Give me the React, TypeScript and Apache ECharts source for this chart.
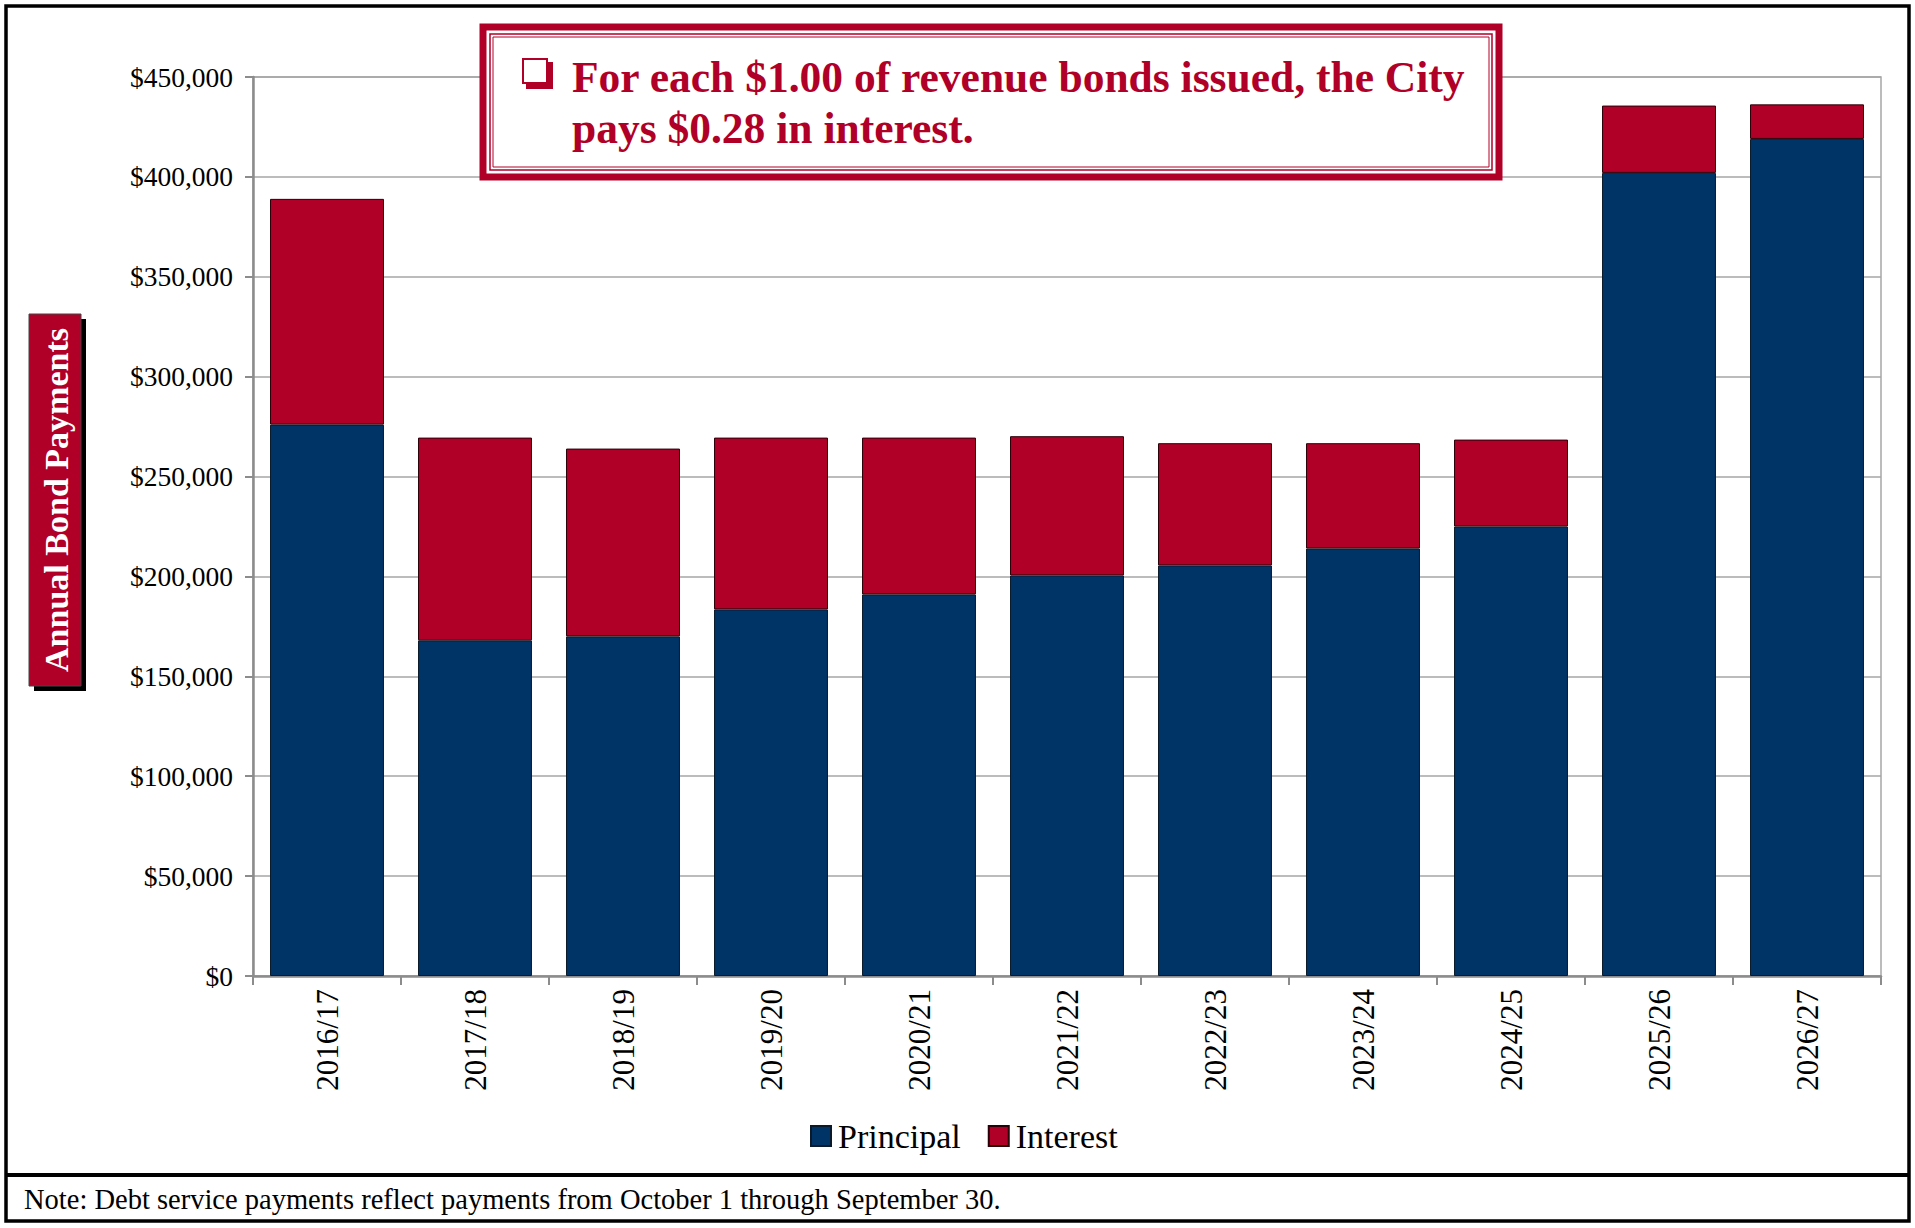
import React, { useEffect, useRef } from "react";
import * as echarts from "echarts";

const categories = ["2016/17", "2017/18", "2018/19", "2019/20", "2020/21", "2021/22", "2022/23", "2023/24", "2024/25", "2025/26", "2026/27"];
const principal = [276000, 168000, 170000, 183500, 191000, 200500, 205500, 214000, 225000, 402000, 419000];
const interest = [113000, 101500, 94000, 86000, 78500, 69700, 61200, 52700, 43500, 33700, 17300];
const yTicks = { min: 0, max: 450000, interval: 50000 };
const calloutLines = ["For each $1.00 of revenue bonds issued, the City", "pays $0.28 in interest."];
const yTitle = "Annual Bond Payments";
const noteText = "Note: Debt service payments reflect payments from October 1 through September 30.";

const NAVY = "#003366";
const RED = "#B10028";
const SERIF = "'Liberation Serif', 'Times New Roman', serif";

export default function App() {
  const ref = useRef<HTMLDivElement>(null);
  useEffect(() => {
    document.body.style.margin = "0";
    const chart = echarts.init(ref.current!, null, { renderer: "svg" });
    chart.setOption({
      animation: false,
      backgroundColor: "#ffffff",
      grid: {
        left: 253, right: 34, top: 77, bottom: 252,
        show: true, borderColor: "#a6a6a6", borderWidth: 1.5, backgroundColor: "transparent",
      },
      legend: {
        data: ["Principal", "Interest"],
        left: 805, top: 1114,
        icon: "rect", itemWidth: 20, itemHeight: 20, itemGap: 27,
        textStyle: { fontFamily: SERIF, fontSize: 34, color: "#000", padding: [0, 0, 0, 2] },
      },
      xAxis: {
        type: "category",
        data: categories,
        axisLine: { lineStyle: { color: "#8c8c8c", width: 2.5 } },
        axisTick: { show: true, alignWithLabel: false, length: 9, lineStyle: { color: "#8c8c8c", width: 2 } },
        axisLabel: { rotate: 90, margin: 13, fontFamily: SERIF, fontSize: 31, color: "#000", interval: 0 },
      },
      yAxis: {
        type: "value",
        min: yTicks.min, max: yTicks.max, interval: yTicks.interval,
        axisLine: { show: true, lineStyle: { color: "#8c8c8c", width: 2.5 } },
        axisTick: { show: true, length: 8, lineStyle: { color: "#8c8c8c", width: 2 } },
        splitLine: { lineStyle: { color: "#a6a6a6", width: 1.5 } },
        axisLabel: {
          margin: 20, fontFamily: SERIF, fontSize: 27.5, color: "#000",
          formatter: (v: number) => "$" + v.toLocaleString("en-US"),
        },
      },
      series: [
        {
          name: "Principal", type: "bar", stack: "total", data: principal,
          barCategoryGap: "23%",
          itemStyle: { color: NAVY, borderColor: "#0a1a2a", borderWidth: 1 },
        },
        {
          name: "Interest", type: "bar", stack: "total", data: interest,
          barCategoryGap: "23%",
          itemStyle: { color: RED, borderColor: "#2a0008", borderWidth: 1 },
        },
      ],
      graphic: [
        // outer frame
        { type: "rect", z: 100, shape: { x: 6, y: 6, width: 1903, height: 1215 }, style: { fill: "none", stroke: "#000", lineWidth: 3.5 } },
        { type: "line", z: 100, shape: { x1: 6, y1: 1175, x2: 1909, y2: 1175 }, style: { stroke: "#000", lineWidth: 4 } },
        { type: "text", z: 100, x: 24, y: 1199, style: { text: noteText, font: `28.5px ${SERIF}`, fill: "#000", textVerticalAlign: "middle" } },
        // y title box
        { type: "rect", z: 100, shape: { x: 34, y: 319, width: 52, height: 372 }, style: { fill: "#000" } },
        { type: "rect", z: 101, shape: { x: 29, y: 314, width: 52, height: 372 }, style: { fill: RED, stroke: "#444", lineWidth: 1 } },
        {
          type: "text", z: 102, x: 56, y: 500, rotation: Math.PI / 2,
          style: { text: yTitle, font: `bold 34px ${SERIF}`, fill: "#fff", textAlign: "center", textVerticalAlign: "middle" },
        },
        // callout box
        { type: "rect", z: 100, shape: { x: 483, y: 27, width: 1016, height: 150 }, style: { fill: "#fff", stroke: RED, lineWidth: 7 } },
        { type: "rect", z: 101, shape: { x: 490, y: 34, width: 1002, height: 136 }, style: { fill: "none", stroke: RED, lineWidth: 1.5 } },
        { type: "rect", z: 101, shape: { x: 493, y: 37, width: 996, height: 130 }, style: { fill: "none", stroke: RED, lineWidth: 1 } },
        // checkbox bullet
        { type: "rect", z: 101, shape: { x: 526, y: 62, width: 27, height: 27 }, style: { fill: RED } },
        { type: "rect", z: 102, shape: { x: 523, y: 59, width: 24, height: 24 }, style: { fill: "#fff", stroke: RED, lineWidth: 2 } },
        { type: "text", z: 102, x: 572, y: 77, style: { text: calloutLines[0], font: `bold 43.5px ${SERIF}`, fill: RED, textVerticalAlign: "middle" } },
        { type: "text", z: 102, x: 572, y: 128, style: { text: calloutLines[1], font: `bold 43.5px ${SERIF}`, fill: RED, textVerticalAlign: "middle" } },
      ],
    });
    return () => chart.dispose();
  }, []);
  return <div ref={ref} style={{ width: 1915, height: 1228 }} />;
}
